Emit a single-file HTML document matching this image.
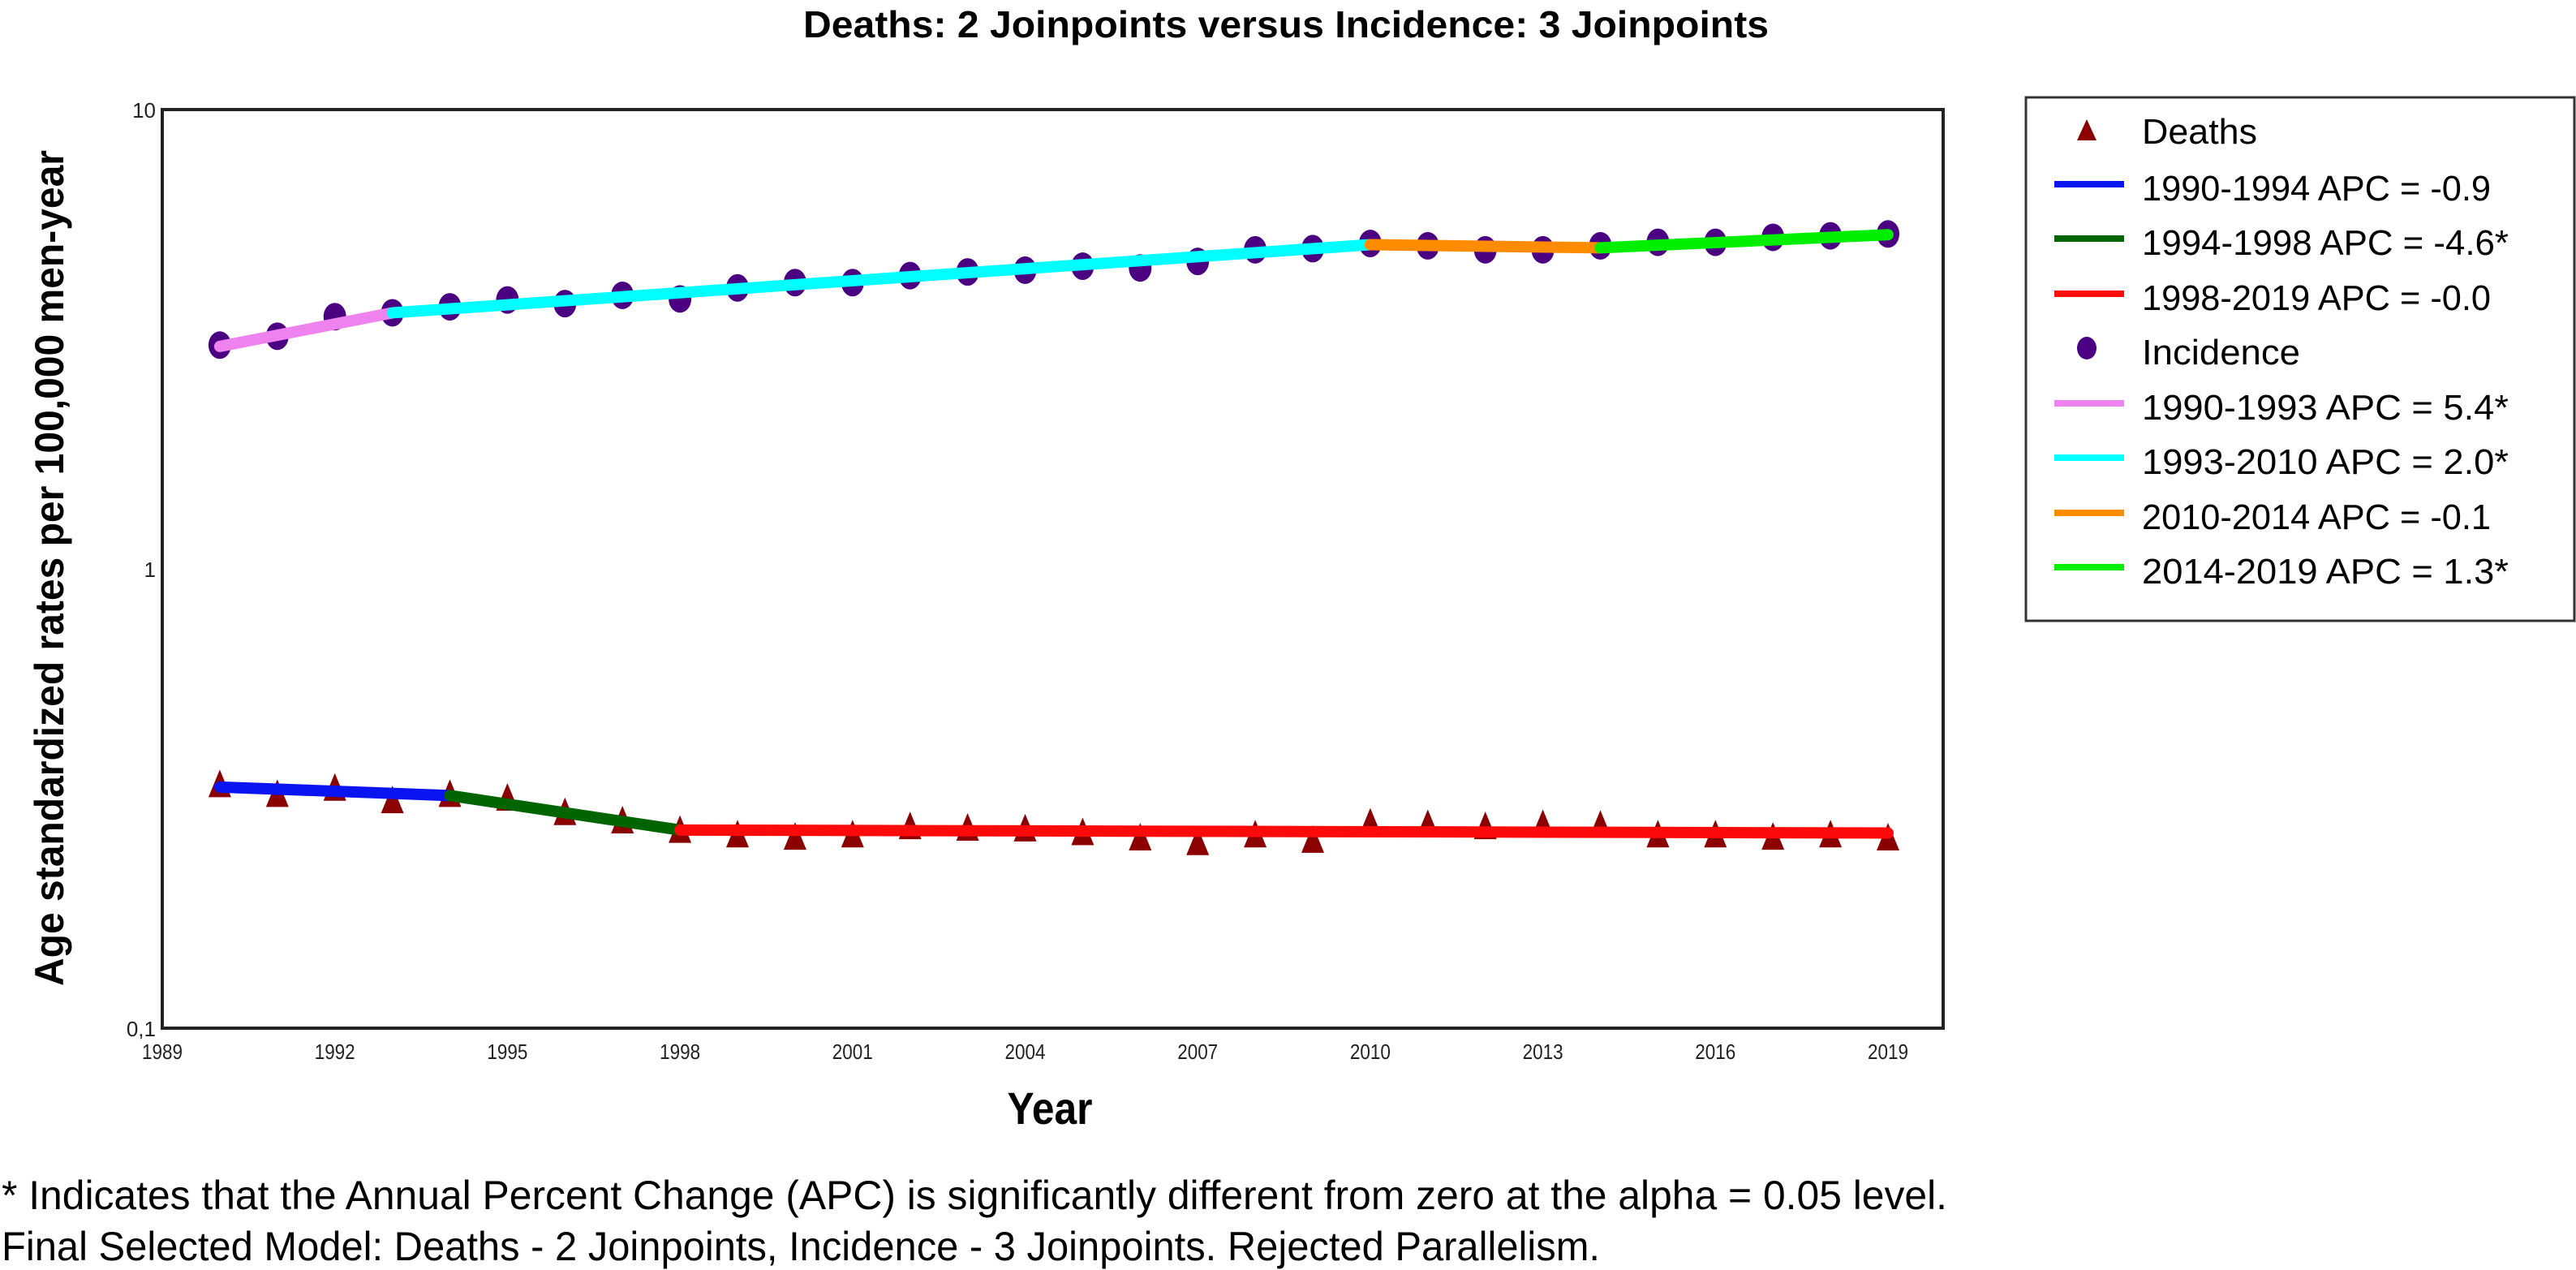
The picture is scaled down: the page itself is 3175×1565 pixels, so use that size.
<!DOCTYPE html>
<html><head><meta charset="utf-8"><style>
html,body{margin:0;padding:0;background:#fff;}
svg{display:block;font-family:"Liberation Sans",sans-serif;}
</style></head><body>
<svg id="chart" width="3175" height="1565" viewBox="0 0 3175 1565" xmlns="http://www.w3.org/2000/svg">
<text x="1585" y="46" text-anchor="middle" font-size="46" font-weight="bold" textLength="1190" lengthAdjust="spacingAndGlyphs">Deaths: 2 Joinpoints  versus  Incidence: 3 Joinpoints</text>
<rect x="200" y="135" width="2195" height="1132" fill="#fff" stroke="#222" stroke-width="4"/>
<g id="xticks"></g><g id="yticks"></g>
<g id="fits"></g><g id="marks"></g>
<text x="1294" y="1385" text-anchor="middle" font-size="56" font-weight="bold" textLength="105" lengthAdjust="spacingAndGlyphs">Year</text>
<text transform="translate(78,700) rotate(-90)" text-anchor="middle" font-size="50" font-weight="bold" textLength="1030" lengthAdjust="spacingAndGlyphs">Age standardized rates per 100,000 men-year</text>
<rect x="2497" y="120" width="676" height="645" fill="#fff" stroke="#333" stroke-width="3"/>
<g id="legend"></g>
<text x="2" y="1490" font-size="50" textLength="2398" lengthAdjust="spacingAndGlyphs">* Indicates that the Annual Percent Change (APC) is significantly different from zero at the alpha = 0.05 level.</text>
<text x="2" y="1553" font-size="50" textLength="1970" lengthAdjust="spacingAndGlyphs">Final Selected Model: Deaths - 2 Joinpoints, Incidence - 3 Joinpoints. Rejected Parallelism.</text>
</svg>
<script>
const years = [1990,1991,1992,1993,1994,1995,1996,1997,1998,1999,2000,2001,2002,2003,2004,2005,2006,2007,2008,2009,2010,2011,2012,2013,2014,2015,2016,2017,2018,2019];
const incidence = [3.07,3.21,3.54,3.61,3.72,3.85,3.78,3.94,3.87,4.09,4.2,4.2,4.35,4.43,4.47,4.56,4.52,4.67,4.95,4.98,5.11,5.05,4.95,4.95,5.05,5.14,5.14,5.27,5.31,5.36];
const deaths = [0.337,0.321,0.331,0.311,0.321,0.315,0.293,0.281,0.268,0.262,0.259,0.262,0.273,0.271,0.27,0.265,0.258,0.252,0.262,0.255,0.278,0.276,0.273,0.276,0.275,0.262,0.262,0.259,0.262,0.258];
const deathSegYears = [[1990,1994],[1994,1998],[1998,2019]];
const deathSegVals = [[0.335,0.321],[0.321,0.27],[0.27,0.266]];
const deathSegColors = ["#0a14f0","#006400","#ff0a0a"];
const incSegYears = [[1990,1993],[1993,2010],[2010,2014],[2014,2019]];
const incSegVals = [[3.05,3.61],[3.61,5.08],[5.08,5.0],[5.0,5.34]];
const incSegColors = ["#ee82ee","#00ffff","#ff8c00","#00ee00"];
const xTickYears = [1989,1992,1995,1998,2001,2004,2007,2010,2013,2016,2019];
const yTickVals = [0.1,1,10];
const yTickLabels = ["0,1","1","10"];
const legendLabels = ["Deaths","1990-1994 APC  = -0.9","1994-1998 APC  = -4.6*","1998-2019 APC  = -0.0","Incidence","1990-1993 APC  =  5.4*","1993-2010 APC  =  2.0*","2010-2014 APC  = -0.1","2014-2019 APC  =  1.3*"];

const NS="http://www.w3.org/2000/svg";
function X(yr){return 200+70.9*(yr-1989);}
function Y(v){return 701-566*Math.log10(v);}
function mk(tag,attrs,parent,txt){const e=document.createElementNS(NS,tag);for(const k in attrs)e.setAttribute(k,attrs[k]);if(txt!==undefined)e.textContent=txt;parent.appendChild(e);return e;}
const gx=document.getElementById('xticks'),gy=document.getElementById('yticks'),gf=document.getElementById('fits'),gm=document.getElementById('marks'),gl=document.getElementById('legend');
xTickYears.forEach(y=>{const t=mk('text',{x:X(y),y:1305,'text-anchor':'middle','font-size':26,fill:'#222',textLength:50,lengthAdjust:'spacingAndGlyphs'},gx,String(y));

});
yTickVals.forEach((v,i)=>{const t=mk('text',{x:192,y:Y(v)+10,'text-anchor':'end','font-size':26,fill:'#222'},gy,yTickLabels[i]);

});
function tri(cx,cy){return `${cx},${cy-20} ${cx-14},${cy+14} ${cx+14},${cy+14}`;}
years.forEach((y,i)=>{const c=mk('ellipse',{cx:X(y),cy:Y(incidence[i]),rx:14,ry:17,fill:'#4b0082'},gm);


const t=mk('polygon',{points:tri(X(y),Y(deaths[i])),fill:'#8b0000'},gm);

});
function seg(yrs,vals,col,name){const l=mk('line',{x1:X(yrs[0]),y1:Y(vals[0]),x2:X(yrs[1]),y2:Y(vals[1]),stroke:col,'stroke-width':14,'stroke-linecap':'round'},gf);

}
incSegYears.forEach((s,i)=>seg(s,incSegVals[i],incSegColors[i],'incidence-fit-segment'));
deathSegYears.forEach((s,i)=>seg(s,deathSegVals[i],deathSegColors[i],'deaths-fit-segment'));
// mark draw order: fit lines over marks
gm.parentNode.insertBefore(gm,gf);
const rowY=[165,235,302,370,437,505,572,640,707];
const legendColors=[null,deathSegColors[0],deathSegColors[1],deathSegColors[2],null,incSegColors[0],incSegColors[1],incSegColors[2],incSegColors[3]];
legendLabels.forEach((lab,i)=>{const y=rowY[i];
if(i===0){const t=mk('polygon',{points:`2572,${y-18} 2560,${y+8} 2584,${y+8}`,fill:'#8b0000'},gl);

}
else if(i===4){const c=mk('ellipse',{cx:2572,cy:y-8,rx:12,ry:14,fill:'#4b0082'},gl);

}
else{const l=mk('line',{x1:2532,y1:y-8,x2:2618,y2:y-8,stroke:legendColors[i],'stroke-width':8},gl);

}
const w=(i===0)?142:(i===4?195:(lab.endsWith('*')?452:430));
const t=mk('text',{x:2640,y:y+12,'font-size':44,fill:'#000',textLength:w,lengthAdjust:'spacingAndGlyphs'},gl,lab);

});
</script>
</body></html>
